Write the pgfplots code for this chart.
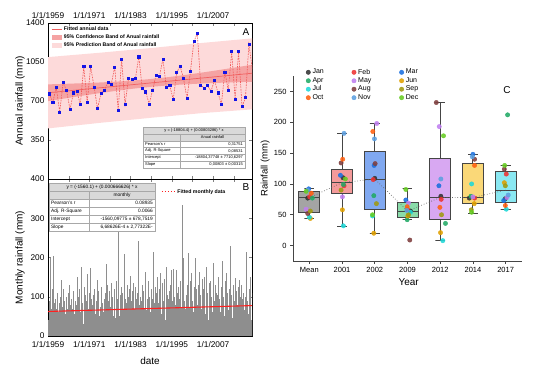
\documentclass[border=0pt]{standalone}
\usepackage{pgfplots}
\pgfplotsset{compat=1.18}
\usepackage{pgfplotstable}
\usepackage{fontspec}
\setmainfont{Liberation Sans}

\definecolor{ptblue}{HTML}{1414E6}
\definecolor{dashred}{HTML}{F25858}
\definecolor{fitred}{HTML}{F06060}
\definecolor{confband}{HTML}{F5A3A3}
\definecolor{predband}{HTML}{FDDADA}
\definecolor{barcol}{HTML}{8E8E8E}
\definecolor{redline}{HTML}{FF2020}
\definecolor{tabgray}{HTML}{D9D9D9}
\definecolor{tabline}{HTML}{A8A8A8}
\definecolor{boxedge}{HTML}{454545}
\definecolor{cMean}{HTML}{A4A4A4}
\definecolor{cA}{HTML}{F49A9A}
\definecolor{cB}{HTML}{80A8F0}
\definecolor{cC}{HTML}{8ADCAA}
\definecolor{cD}{HTML}{D8A8F2}
\definecolor{cE}{HTML}{FAD878}
\definecolor{cF}{HTML}{8AE8F2}
\definecolor{mJan}{HTML}{333333}
\definecolor{mFeb}{HTML}{EE3333}
\definecolor{mMar}{HTML}{1A6FDF}
\definecolor{mApr}{HTML}{22AA66}
\definecolor{mMay}{HTML}{C080F0}
\definecolor{mJun}{HTML}{E0A000}
\definecolor{mJul}{HTML}{20D8D8}
\definecolor{mAug}{HTML}{7F3F3F}
\definecolor{mSep}{HTML}{A09A10}
\definecolor{mOct}{HTML}{FF6010}
\definecolor{mNov}{HTML}{5EA0E0}
\definecolor{mDec}{HTML}{66CC22}

\pgfplotsset{
  lineleg/.style={legend image code/.code={\draw[##1] (0pt,0pt) -- (10pt,0pt);}},
  lineleglong/.style={legend image code/.code={\draw[##1] (0pt,0pt) -- (13pt,0pt);}},
  arealeg/.style={legend image code/.code={\fill[##1] (0pt,-2.2pt) rectangle (10pt,2.2pt);}},
  dotleg/.style={legend image code/.code={\draw[mark repeat=2,mark phase=2,##1] plot coordinates {(0pt,0pt)(3pt,0pt)(6pt,0pt)};}},
  mstyle/.style={only marks, mark=*, mark size=2.2pt, opacity=0.88, color=#1, mark options={fill=#1, draw=#1}},
  bxline/.style={forget plot, boxedge, line width=0.9pt, mark=none},
  bxfill/.style={forget plot, draw=boxedge, fill=#1, line width=0.9pt, mark=none},
}

\pgfplotstableread{
yr val
1959 765
1960 690
1961 822
1962 601
1963 867
1964 792
1965 625
1966 774
1967 786
1968 670
1969 1008
1970 690
1971 1008
1972 825
1973 631
1974 768
1975 798
1976 870
1977 852
1978 1005
1979 613
1980 1076
1981 670
1982 900
1983 894
1984 900
1985 1097
1986 813
1987 783
1988 673
1989 795
1990 933
1991 921
1992 1076
1993 825
1994 837
1995 712
1996 954
1997 1014
1998 900
1999 721
2000 966
2001 1232
2002 1307
2003 843
2004 816
2005 837
2006 789
2007 888
2008 774
2009 673
2010 960
2011 798
2012 1142
2013 715
2014 1148
2015 649
2016 730
2017 1208
2018 987
}\annual

\pgfplotstableread{
yr a b c d e f
1959 40 90 60 198 25 70
1960 55 120 30 204 45 85
1961 20 95 70 45 110 30
1962 60 85 25 100 50 143
1963 40 75 120 35 90 55
1964 30 100 65 45 70 109
1965 50 130 20 80 60 95
1966 70 40 115 55 25 90
1967 45 80 151 30 100 60
1968 35 120 60 175 40 85
1969 80 30 125 65 105 45
1970 55 90 157 25 70 110
1971 40 60 173 95 30 80
1972 65 105 35 120 55 25
1973 90 143 40 70 115 50
1974 30 75 100 126 45 85
1975 60 95 25 110 70 183
1976 45 130 55 90 35 115
1977 75 40 134 60 100 30
1978 50 120 85 45 140 65
1979 35 95 60 270 50 105
1980 80 45 125 30 110 70
1981 208 60 95 40 85 130
1982 55 100 35 120 65 153
1983 40 90 115 50 135 30
1984 70 125 45 95 60 110
1985 35 241 80 55 100 45
1986 90 60 130 40 115 70
1987 50 105 164 65 35 95
1988 80 140 45 100 60 120
1989 30 95 70 215 55 85
1990 65 125 40 110 150 50
1991 85 45 120 160 70 35
1992 55 135 90 40 145 75
1993 40 177 60 105 30 95
1994 75 115 50 130 45 168
1995 35 90 170 60 100 55
1996 80 45 168 110 65 125
1997 50 95 140 35 75 334
1998 60 120 198 45 90 70
1999 40 105 65 130 211 55
2000 75 140 50 95 160 35
2001 90 60 125 45 110 198
2002 55 120 80 130 40 100
2003 164 45 105 70 145 60
2004 35 120 90 150 55 80
2005 177 65 110 40 135 95
2006 50 140 75 100 60 125
2007 185 45 90 130 35 110
2008 70 105 150 55 95 40
2009 60 125 85 190 45 100
2010 95 50 140 70 160 35
2011 45 110 65 120 80 140
2012 230 60 105 45 130 75
2013 55 90 149 40 115 65
2014 80 35 125 60 143 100
2015 45 130 70 95 50 110
2016 65 100 40 145 213 55
2017 90 55 120 75 60 151
2018 40 110 65 130 50 85
}\monthly

\newcommand{\tfA}{\fontsize{4}{4.5}\selectfont}
\newcommand{\tfB}{\fontsize{4.8}{5.5}\selectfont}

\begin{document}
\begin{tikzpicture}[font=\fontsize{8}{9}\selectfont]
\path[use as bounding box] (0,0) rectangle (534pt,370pt);

% ---------------- Panel A ----------------
\begin{axis}[at={(48pt,191pt)}, anchor=south west, scale only axis,
  width=204pt, height=156pt,
  xmin=1959, xmax=2018.3, ymin=0, ymax=1400,
  xtick={1959,1971,1983,1995,2007},
  xticklabels={1/1/1959,1/1/1971,1/1/1983,1/1/1995,1/1/2007},
  xticklabel pos=right,
  xticklabel style={yshift=1.2pt},
  minor xtick={1965,1977,1989,2001,2013},
  ytick={350,700,1050,1400},
  tick label style={font=\fontsize{8.3}{10}\selectfont},
  /pgf/number format/assume math mode=true,
  /pgf/number format/1000 sep={},
  ylabel={Annual rainfall (mm)},
  ylabel style={font=\fontsize{10}{12}\selectfont, at={(axis description cs:-0.137,0.5)}, anchor=center},
  axis line style={line width=0.6pt},
  major tick length=3pt, minor tick length=3pt,
  legend cell align=left,
  legend style={draw=none, fill=none, font=\fontsize{5.2}{6}\selectfont\bfseries,
    at={(0.01,0.995)}, anchor=north west, row sep=-1.4pt, inner sep=1pt},
]
\addlegendimage{lineleg, fitred, line width=0.7pt}
\addlegendentry{Fitted annual data}
\addlegendimage{arealeg, fill=confband, draw=none}
\addlegendentry{95\% Confidence Band of Anual rainfall}
\addlegendimage{arealeg, fill=predband, draw=none}
\addlegendentry{95\% Prediction Band of Anual rainfall}

\addplot[forget plot, fill=predband, draw=none] coordinates {
(1959,1094)(1974,1133)(1989,1175.5)(2004,1221.7)(2018.3,1262)
(2018.3,625)(2004,592)(1989,549.5)(1974,503.6)(1959,454)};
\addplot[forget plot, fill=confband, draw=none] coordinates {
(1959,849)(1964,854.1)(1969,859.6)(1974,866.1)(1979,874)(1984,884.2)(1989,897.5)(1994,914.4)(1999,934.2)(2004,956.2)(2009,979.4)(2014,1003.5)(2018.3,1025.4)
(2018.3,872.6)(2014,869.1)(2009,863.6)(2004,857.4)(1999,849.8)(1994,840.2)(1989,827.5)(1984,811.4)(1979,792)(1974,770.5)(1969,747.4)(1964,723.5)(1959,699)};
\addplot[forget plot, fitred, line width=0.7pt] coordinates {(1959,774)(2018.3,949)};
\addplot[forget plot, dashred, dash pattern=on 1.6pt off 1pt, line width=0.6pt, mark=square*, mark size=1.05pt,
  mark options={solid, fill=ptblue, draw=ptblue}] table[x expr=\thisrow{yr}+0.4, y=val] {\annual};
\node[font=\fontsize{10}{12}\selectfont] at (rel axis cs:0.97,0.94) {A};
\end{axis}

% ---------------- Panel B ----------------
\begin{axis}[at={(48pt,34pt)}, anchor=south west, scale only axis,
  width=204pt, height=157pt,
  xmin=1959, xmax=2018.3, ymin=0, ymax=400,
  xtick={1959,1971,1983,1995,2007},
  xticklabels={1/1/1959,1/1/1971,1/1/1983,1/1/1995,1/1/2007},
  xticklabel style={yshift=-1.5pt},
  minor xtick={1965,1977,1989,2001,2013},
  ytick={0,100,200,300,400},
  tick label style={font=\fontsize{8.3}{10}\selectfont},
  /pgf/number format/assume math mode=true,
  ylabel={Monthly rainfall (mm)},
  ylabel style={font=\fontsize{10}{12}\selectfont, at={(axis description cs:-0.137,0.5)}, anchor=center},
  xlabel={date},
  xlabel style={font=\fontsize{10}{12}\selectfont, at={(axis description cs:0.5,-0.159)}, anchor=center},
  axis line style={line width=0.6pt},
  major tick length=3pt, minor tick length=3pt,
  legend cell align=left,
  legend style={draw=none, fill=none, font=\fontsize{5.2}{6}\selectfont\bfseries,
    at={(0.55,0.955)}, anchor=north west, inner sep=1pt},
]
\addlegendimage{lineleglong, redline, dotted, line width=1pt}
\addlegendentry{Fitted monthly data}
\addplot[forget plot, ycomb, barcol, line width=0.65pt] table[x expr=\thisrow{yr}+0.083, y=a] {\monthly};
\addplot[forget plot, ycomb, barcol, line width=0.65pt] table[x expr=\thisrow{yr}+0.250, y=b] {\monthly};
\addplot[forget plot, ycomb, barcol, line width=0.65pt] table[x expr=\thisrow{yr}+0.417, y=c] {\monthly};
\addplot[forget plot, ycomb, barcol, line width=0.65pt] table[x expr=\thisrow{yr}+0.583, y=d] {\monthly};
\addplot[forget plot, ycomb, barcol, line width=0.65pt] table[x expr=\thisrow{yr}+0.750, y=e] {\monthly};
\addplot[forget plot, ycomb, barcol, line width=0.65pt] table[x expr=\thisrow{yr}+0.917, y=f] {\monthly};
\addplot[forget plot, redline, line width=1.1pt] coordinates {(1959,62.5)(2018.3,77.5)};
\node[font=\fontsize{10}{12}\selectfont] at (rel axis cs:0.97,0.95) {B};
\end{axis}

% ---------------- Panel C ----------------
\begin{axis}[at={(293pt,109pt)}, anchor=south west, scale only axis,
  width=229pt, height=185pt,
  xmin=-0.5, xmax=6.5, ymin=-25, ymax=275,
  axis x line*=bottom, axis y line*=left,
  axis line style={boxedge, line width=0.9pt},
  tick align=outside, major tick length=3pt,
  tick style={boxedge, line width=0.7pt},
  xtick={0,1,2,3,4,5,6},
  xticklabels={Mean,2001,2002,2009,2012,2014,2017},
  ytick={0,50,100,150,200,250},
  tick label style={font=\fontsize{7.5}{9}\selectfont},
  /pgf/number format/assume math mode=true,
  ylabel={Rainfall (mm)},
  ylabel style={font=\fontsize{9.5}{11}\selectfont, at={(axis description cs:-0.122,0.5)}, anchor=center},
  xlabel={Year},
  xlabel style={font=\fontsize{10}{12}\selectfont, at={(axis description cs:0.505,-0.114)}, anchor=center},
  legend columns=3,
  legend cell align=left,
  dotleg,
  legend style={draw=none, fill=none, font=\fontsize{7}{8}\selectfont,
    at={(0.052,1.055)}, anchor=north west, row sep=-2pt, inner sep=1pt,
    /tikz/every even column/.append style={column sep=26pt}},
  clip=false,
]
% whiskers
\addplot[bxline] coordinates {(0,88.6)(0,92.5)(-0.15,92.5)(0.15,92.5)};
\addplot[bxline] coordinates {(0,54)(0,44.6)(-0.15,44.6)(0.15,44.6)};
\addplot[bxline] coordinates {(1,124)(1,182)(0.85,182)(1.15,182)};
\addplot[bxline] coordinates {(1,84)(1,31.5)(0.85,31.5)(1.15,31.5)};
\addplot[bxline] coordinates {(2,153)(2,198)(1.85,198)(2.15,198)};
\addplot[bxline] coordinates {(2,59)(2,20)(1.85,20)(2.15,20)};
\addplot[bxline] coordinates {(3,70)(3,92)(2.85,92)(3.15,92)};
\addplot[bxline] coordinates {(3,46)(3,42)(2.85,42)(3.15,42)};
\addplot[bxline] coordinates {(4,142)(4,232)(3.85,232)(4.15,232)};
\addplot[bxline] coordinates {(4,43)(4,7.6)(3.85,7.6)(4.15,7.6)};
\addplot[bxline] coordinates {(5,134)(5,148)(4.85,148)(5.15,148)};
\addplot[bxline] coordinates {(5,69)(5,52)(4.85,52)(5.15,52)};
\addplot[bxline] coordinates {(6,120)(6,130)(5.85,130)(6.15,130)};
\addplot[bxline] coordinates {(6,70)(6,59)(5.85,59)(6.15,59)};
% boxes
\addplot[bxfill=cMean] coordinates {(-0.32,54)(0.32,54)(0.32,88.6)(-0.32,88.6)} -- cycle;
\addplot[bxfill=cA] coordinates {(0.68,84)(1.32,84)(1.32,124)(0.68,124)} -- cycle;
\addplot[bxfill=cB] coordinates {(1.68,59)(2.32,59)(2.32,153)(1.68,153)} -- cycle;
\addplot[bxfill=cC] coordinates {(2.68,46)(3.32,46)(3.32,70)(2.68,70)} -- cycle;
\addplot[bxfill=cD] coordinates {(3.68,43)(4.32,43)(4.32,142)(3.68,142)} -- cycle;
\addplot[bxfill=cE] coordinates {(4.68,69)(5.32,69)(5.32,134)(4.68,134)} -- cycle;
\addplot[bxfill=cF] coordinates {(5.68,70)(6.32,70)(6.32,120)(5.68,120)} -- cycle;
% medians
\addplot[bxline] coordinates {(-0.32,77.7)(0.32,77.7)};
\addplot[bxline] coordinates {(0.68,102)(1.32,102)};
\addplot[bxline] coordinates {(1.68,108)(2.32,108)};
\addplot[bxline] coordinates {(2.68,56)(3.32,56)};
\addplot[bxline] coordinates {(3.68,78)(4.32,78)};
\addplot[bxline] coordinates {(4.68,78)(5.32,78)};
\addplot[bxline] coordinates {(5.68,90)(6.32,90)};
\addplot[forget plot, gray!80!black, dotted, line width=0.7pt] coordinates {(0,77.7)(1,102)(2,108)(3,56)(4,78)(5,78)(6,90)};

\addplot[mstyle=mJan] coordinates {(-0.05,77)(1.03,110)(2,109)(3.09,56)(4.02,80)(4.89,77)(5.99,76)};
\addlegendentry{Jan}
\addplot[mstyle=mFeb] coordinates {(0.01,79)(1.06,97)(1.95,107)(3,59)(4.03,75)(5.05,77)(6.02,116)};
\addlegendentry{Feb}
\addplot[mstyle=mMar] coordinates {(-0.02,92)(0.95,114)(1.98,130)(2.95,74)(3.96,97)(5,148)(5.94,73)};
\addlegendentry{Mar}
\addplot[mstyle=mApr] coordinates {(0.09,77)(1.04,99)(1.97,81)(2.99,42)(4.16,36)(4.94,80)(6.06,212)};
\addlegendentry{Apr}
\addplot[mstyle=mMay] coordinates {(-0.1,59)(1.01,79)(2.06,198)(3.03,69)(3.97,193)(5,79)(6.04,78)};
\addlegendentry{May}
\addplot[mstyle=mJun] coordinates {(0.03,44)(1.01,58)(1.97,20)(3.01,48)(4.01,21)(5.04,68)(5.96,102)};
\addlegendentry{Jun}
\addplot[mstyle=mJul] coordinates {(0,46)(1.04,32)(1.93,48)(3.09,54)(4.08,8)(4.96,100)(6.02,59)};
\addlegendentry{Jul}
\addplot[mstyle=mAug] coordinates {(-0.05,52)(0.97,134)(2.01,133)(3.07,9)(3.88,232)(5.05,140)(5.96,124)};
\addlegendentry{Aug}
\addplot[mstyle=mSep] coordinates {(0.03,56)(0.97,90)(2.05,68)(3.03,50)(4.04,50)(4.95,58)(5.99,97)};
\addlegendentry{Sep}
\addplot[mstyle=mOct] coordinates {(0.06,85)(1.02,140)(1.94,185)(2.99,63)(3.99,62)(5.05,130)(5.99,65)};
\addlegendentry{Oct}
\addplot[mstyle=mNov] coordinates {(-0.05,90)(1.06,182)(1.99,173)(2.98,57)(4.02,108)(4.98,144)(6.08,82)};
\addlegendentry{Nov}
\addplot[mstyle=mDec] coordinates {(-0.1,88)(1.1,108)(1.93,50)(2.95,91)(4.1,178)(4.96,54)(5.97,130)};
\addlegendentry{Dec}
\node[font=\fontsize{10}{12}\selectfont] at (rel axis cs:0.934,0.924) {C};
\end{axis}

% ---------------- Table A ----------------
\begin{scope}
\fill[white] (143pt,202pt) rectangle (245pt,243pt);
\fill[tabgray] (143pt,229.3pt) rectangle (245pt,243pt);
\foreach \yy in {236.2,229.3,222.5,215.7,208.8} {\draw[tabline, line width=0.3pt] (143pt,\yy pt) -- (245pt,\yy pt);}
\draw[tabline, line width=0.3pt] (180pt,202pt) -- (180pt,236.2pt);
\draw[tabline, line width=0.4pt] (143pt,202pt) rectangle (245pt,243pt);
\node[font=\tfA, inner sep=0pt] at (194pt,239.6pt) {y = (-18804.4) + (0.00803286) * x};
\node[font=\tfA, inner sep=0pt] at (212.5pt,232.75pt) {Anual rainfall};
\node[font=\tfA, inner sep=0pt, anchor=west] at (145pt,225.9pt) {Pearson's r};
\node[font=\tfA, inner sep=0pt, anchor=west] at (145pt,219.1pt) {Adj. R-Square};
\node[font=\tfA, inner sep=0pt, anchor=west] at (145pt,212.25pt) {Intercept};
\node[font=\tfA, inner sep=0pt, anchor=west] at (145pt,205.4pt) {Slope};
\node[font=\tfA, inner sep=0pt, anchor=east] at (243pt,225.9pt) {0,31751};
\node[font=\tfA, inner sep=0pt, anchor=east] at (243pt,219.1pt) {0,08531};
\node[font=\tfA, inner sep=0pt, anchor=east] at (243pt,212.25pt) {-18804,37748 ± 7710,6297};
\node[font=\tfA, inner sep=0pt, anchor=east] at (243pt,205.4pt) {0,00803 ± 0,00315};
\end{scope}

% ---------------- Table B ----------------
\begin{scope}
\fill[white] (49pt,139pt) rectangle (155pt,187pt);
\fill[tabgray] (49pt,171pt) rectangle (155pt,187pt);
\foreach \yy in {179,171,163,155,147} {\draw[tabline, line width=0.3pt] (49pt,\yy pt) -- (155pt,\yy pt);}
\draw[tabline, line width=0.3pt] (89pt,139pt) -- (89pt,179pt);
\draw[tabline, line width=0.4pt] (49pt,139pt) rectangle (155pt,187pt);
\node[font=\tfB, inner sep=0pt] at (102pt,183pt) {y = (-1560.1) + (0.000666626) * x};
\node[font=\tfB, inner sep=0pt] at (122pt,175pt) {monthly};
\node[font=\tfB, inner sep=0pt, anchor=west] at (51pt,167pt) {Pearson's r};
\node[font=\tfB, inner sep=0pt, anchor=west] at (51pt,159pt) {Adj. R-Square};
\node[font=\tfB, inner sep=0pt, anchor=west] at (51pt,151pt) {Intercept};
\node[font=\tfB, inner sep=0pt, anchor=west] at (51pt,143pt) {Slope};
\node[font=\tfB, inner sep=0pt, anchor=east] at (153pt,167pt) {0.08935};
\node[font=\tfB, inner sep=0pt, anchor=east] at (153pt,159pt) {0.0066};
\node[font=\tfB, inner sep=0pt, anchor=east] at (153pt,151pt) {-1560,09775 ± 678,7519};
\node[font=\tfB, inner sep=0pt, anchor=east] at (153pt,143pt) {6,68626E-4 ± 2,77322E-};
\end{scope}
\end{tikzpicture}
\end{document}
